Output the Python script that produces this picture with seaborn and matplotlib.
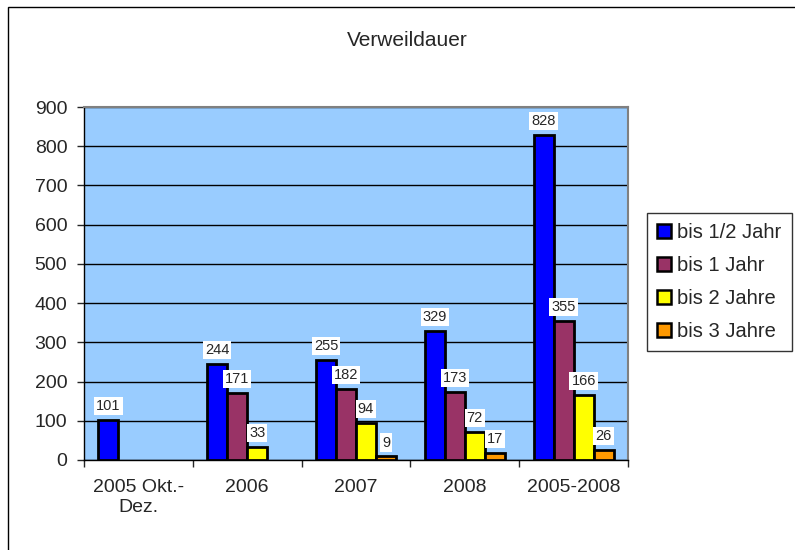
import pandas as pd
import matplotlib.pyplot as plt
import matplotlib.patches as mpatches
from matplotlib.ticker import FixedLocator, MultipleLocator
import seaborn as sns

# Daten aus der Grafik
kategorien = ["2005 Okt.-\nDez.", "2006", "2007", "2008", "2005-2008"]
serien = ["bis 1/2 Jahr", "bis 1 Jahr", "bis 2 Jahre", "bis 3 Jahre"]
bis_halb_jahr = [101, 244, 255, 329, 828]
bis_1_jahr = [None, 171, 182, 173, 355]
bis_2_jahre = [None, 33, 94, 72, 166]
bis_3_jahre = [None, None, 9, 17, 26]
farben = ["#0000FF", "#993366", "#FFFF00", "#FF9900"]

# Long-Format fuer seaborn
zeilen = []
for serie, werte in zip(serien, [bis_halb_jahr, bis_1_jahr, bis_2_jahre, bis_3_jahre]):
    for kat, wert in zip(kategorien, werte):
        if wert is not None:
            zeilen.append({"Kategorie": kat, "Serie": serie, "Wert": wert})
df = pd.DataFrame(zeilen)

sns.set_style("white")
plt.rcParams["font.family"] = ["Liberation Sans", "DejaVu Sans"]

fig = plt.figure(figsize=(7.95, 5.5), dpi=100)
ax = fig.add_axes([84 / 795, 1 - 460 / 550, 544 / 795, 353 / 550])

sns.barplot(data=df, x="Kategorie", y="Wert", hue="Serie", order=kategorien,
            hue_order=serien, palette=farben, width=0.735, gap=0,
            edgecolor="black", linewidth=2, saturation=1, ax=ax, zorder=3,
            legend=False)

ax.set_facecolor("#99CCFF")
ax.set_ylim(0, 900)
ax.set_xlim(-0.5, 4.5)
ax.yaxis.set_major_locator(MultipleLocator(100))
ax.grid(axis="y", color="black", linewidth=1, zorder=0)
ax.set_axisbelow(True)
ax.set_xlabel("")
ax.set_ylabel("")

# Werte ueber den Balken
for container in ax.containers:
    ax.bar_label(container, padding=5, fontsize=10.5,
                 bbox=dict(facecolor="white", edgecolor="none", pad=1.5))

# Achsen im Excel-Stil
for seite in ["left", "bottom"]:
    ax.spines[seite].set_color("black")
    ax.spines[seite].set_linewidth(1)
for seite in ["top", "right"]:
    ax.spines[seite].set_color("#808080")
    ax.spines[seite].set_linewidth(1.5)

ax.tick_params(axis="y", which="major", direction="out", length=5, width=1,
               pad=7, labelsize=14, left=True)
ax.tick_params(axis="x", which="major", length=0, pad=14, labelsize=14)
ax.xaxis.set_minor_locator(FixedLocator([-0.5, 0.5, 1.5, 2.5, 3.5, 4.5]))
ax.tick_params(axis="x", which="minor", direction="out", length=5, width=1, bottom=True)

fig.text(407 / 795, 1 - 40 / 550, "Verweildauer", fontsize=15, ha="center", va="center")

# Legende
handles = [mpatches.Patch(facecolor=f, edgecolor="black", linewidth=1.8) for f in farben]
leg = fig.legend(handles, serien, loc="upper left", bbox_to_anchor=(647 / 795, 1 - 213 / 550),
                 fontsize=14.5, frameon=True, fancybox=False, handlelength=0.7,
                 handleheight=0.7, handletextpad=0.3, labelspacing=0.7,
                 borderpad=0.5, borderaxespad=0)
leg.get_frame().set_edgecolor("black")
leg.get_frame().set_linewidth(1)

# Rahmen um das Diagramm
fig.patches.append(mpatches.Rectangle((8 / 795, -0.1), 1.2, 1.1 - 7 / 550,
                                      transform=fig.transFigure, fill=False,
                                      edgecolor="black", linewidth=1))

fig.savefig("out.png", dpi=100)
